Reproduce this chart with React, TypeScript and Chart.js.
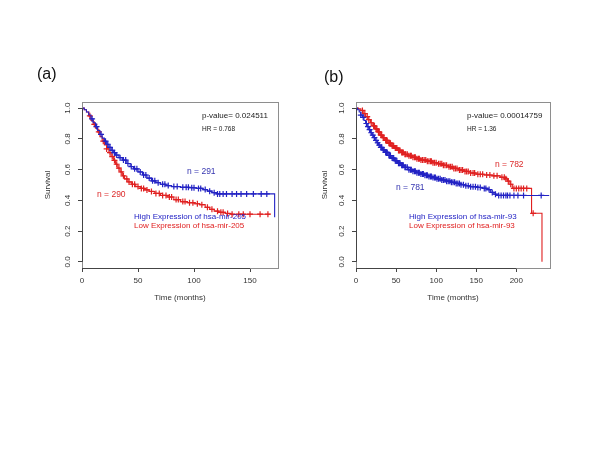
import React, { useEffect, useRef } from 'react';
import { Chart, registerables } from 'chart.js';

Chart.register(...registerables);

// ---------- Panel (a): hsa-mir-205 ----------
const A_HIGH_CURVE: [number, number][] = [
  [0, 1.0], [2, 0.99], [4, 0.975], [6, 0.955], [8, 0.93], [10, 0.905], [12, 0.88], [14, 0.855],
  [16, 0.83], [18, 0.805], [20, 0.785], [22, 0.765], [24, 0.745], [26, 0.725], [28, 0.71], [30, 0.695],
  [33, 0.678], [36, 0.662], [40, 0.64], [43, 0.62], [46, 0.605], [50, 0.585], [54, 0.565], [58, 0.545],
  [62, 0.527], [66, 0.515], [70, 0.505], [75, 0.496], [80, 0.49], [88, 0.485], [96, 0.482], [102, 0.478],
  [108, 0.47], [112, 0.46], [116, 0.45], [120, 0.442], [172, 0.29],
];
const A_HIGH_CENSOR: [number, number][] = [
  [9, 0.93], [13, 0.88], [17, 0.83], [21, 0.785], [23, 0.765], [25, 0.745], [27, 0.725], [29, 0.71],
  [31, 0.695], [34, 0.678], [37, 0.662], [39, 0.662], [41, 0.64], [44, 0.62], [47, 0.605], [49, 0.605],
  [52, 0.585], [55, 0.565], [57, 0.565], [60, 0.545], [63, 0.527], [65, 0.527], [68, 0.515], [72, 0.505],
  [74, 0.505], [77, 0.496], [82, 0.49], [85, 0.49], [90, 0.485], [93, 0.485], [95, 0.485], [98, 0.482],
  [100, 0.482], [104, 0.478], [106, 0.478], [110, 0.47], [114, 0.46], [118, 0.45], [121, 0.442],
  [123, 0.442], [126, 0.442], [129, 0.442], [134, 0.442], [138, 0.442], [142, 0.442], [147, 0.442],
  [153, 0.442], [160, 0.442], [165, 0.442],
];
const A_LOW_CURVE: [number, number][] = [
  [0, 1.0], [2, 0.99], [4, 0.975], [6, 0.95], [8, 0.92], [10, 0.895], [12, 0.87], [14, 0.845],
  [16, 0.815], [18, 0.785], [20, 0.76], [22, 0.735], [24, 0.71], [26, 0.685], [28, 0.66], [30, 0.635],
  [32, 0.61], [34, 0.585], [36, 0.56], [38, 0.54], [41, 0.52], [44, 0.505], [48, 0.49], [52, 0.478],
  [56, 0.468], [60, 0.458], [65, 0.445], [70, 0.432], [76, 0.422], [82, 0.405], [88, 0.392], [94, 0.385],
  [100, 0.378], [105, 0.372], [110, 0.355], [114, 0.342], [118, 0.33], [122, 0.322], [128, 0.315],
  [133, 0.31], [168, 0.31],
];
const A_LOW_CENSOR: [number, number][] = [
  [7, 0.95], [11, 0.895], [15, 0.845], [19, 0.785], [22, 0.735], [25, 0.71], [27, 0.685], [29, 0.66],
  [31, 0.635], [33, 0.61], [35, 0.585], [37, 0.56], [40, 0.54], [42, 0.52], [45, 0.505], [47, 0.505],
  [50, 0.49], [53, 0.478], [55, 0.478], [58, 0.468], [62, 0.458], [66, 0.445], [69, 0.445], [72, 0.432],
  [75, 0.432], [78, 0.422], [80, 0.422], [84, 0.405], [86, 0.405], [90, 0.392], [92, 0.392], [96, 0.385],
  [99, 0.385], [103, 0.378], [107, 0.372], [112, 0.355], [116, 0.342], [121, 0.33], [124, 0.322],
  [126, 0.322], [130, 0.315], [134, 0.31], [140, 0.31], [144, 0.31], [150, 0.31], [159, 0.31], [166, 0.31],
];

// ---------- Panel (b): hsa-mir-93 ----------
const B_HIGH_CURVE: [number, number][] = [
  [0, 1.0], [2, 0.99], [4, 0.975], [6, 0.955], [8, 0.94], [10, 0.92], [12, 0.9], [14, 0.88], [16, 0.86],
  [18, 0.84], [20, 0.825], [22, 0.808], [24, 0.79], [26, 0.775], [28, 0.76], [30, 0.745], [33, 0.728],
  [36, 0.712], [40, 0.692], [44, 0.675], [48, 0.658], [52, 0.642], [56, 0.628], [60, 0.615], [65, 0.6],
  [70, 0.59], [75, 0.58], [80, 0.572], [85, 0.563], [90, 0.555], [95, 0.548], [100, 0.54], [106, 0.532],
  [112, 0.525], [118, 0.518], [124, 0.51], [130, 0.502], [136, 0.495], [142, 0.489], [150, 0.484],
  [158, 0.478], [164, 0.47], [168, 0.452], [172, 0.44], [176, 0.432], [241, 0.432],
];
const B_HIGH_CENSOR: [number, number][] = [
  [6, 0.955], [9, 0.94], [13, 0.9], [15, 0.88], [17, 0.86], [19, 0.84], [21, 0.825], [23, 0.808],
  [25, 0.79], [27, 0.775], [29, 0.76], [31, 0.745], [32, 0.745], [34, 0.728], [35, 0.728], [37, 0.712],
  [38, 0.712], [39, 0.712], [41, 0.692], [42, 0.692], [43, 0.692], [45, 0.675], [46, 0.675], [47, 0.675],
  [49, 0.658], [50, 0.658], [51, 0.658], [53, 0.642], [54, 0.642], [55, 0.642], [57, 0.628], [58, 0.628],
  [59, 0.628], [61, 0.615], [62, 0.615], [64, 0.615], [66, 0.6], [68, 0.6], [69, 0.6], [71, 0.59],
  [73, 0.59], [74, 0.59], [76, 0.58], [78, 0.58], [79, 0.58], [81, 0.572], [83, 0.572], [84, 0.572],
  [86, 0.563], [88, 0.563], [89, 0.563], [91, 0.555], [93, 0.555], [94, 0.555], [96, 0.548], [98, 0.548],
  [99, 0.548], [101, 0.54], [103, 0.54], [105, 0.54], [107, 0.532], [109, 0.532], [111, 0.532],
  [113, 0.525], [115, 0.525], [117, 0.525], [119, 0.518], [121, 0.518], [123, 0.518], [125, 0.51],
  [127, 0.51], [129, 0.51], [131, 0.502], [134, 0.502], [137, 0.495], [140, 0.495], [143, 0.489],
  [146, 0.489], [149, 0.489], [152, 0.484], [155, 0.484], [160, 0.478], [162, 0.478], [166, 0.47],
  [170, 0.452], [174, 0.44], [178, 0.432], [181, 0.432], [184, 0.432], [187, 0.432], [189, 0.432],
  [192, 0.432], [197, 0.432], [202, 0.432], [209, 0.432], [231, 0.432],
];
const B_LOW_CURVE: [number, number][] = [
  [0, 1.0], [3, 0.995], [6, 0.985], [9, 0.965], [12, 0.945], [15, 0.925], [18, 0.905], [21, 0.885],
  [24, 0.865], [27, 0.845], [30, 0.825], [33, 0.808], [36, 0.79], [40, 0.772], [44, 0.755], [48, 0.74],
  [52, 0.725], [56, 0.712], [60, 0.7], [65, 0.69], [70, 0.68], [75, 0.67], [80, 0.662], [88, 0.655],
  [95, 0.645], [102, 0.638], [108, 0.628], [115, 0.618], [121, 0.608], [128, 0.598], [135, 0.588],
  [142, 0.578], [150, 0.57], [160, 0.565], [170, 0.56], [180, 0.55], [186, 0.54], [189, 0.525],
  [192, 0.505], [195, 0.478], [219, 0.316], [232, 0.0],
];
const B_LOW_CENSOR: [number, number][] = [
  [8, 0.985], [11, 0.965], [14, 0.945], [16, 0.925], [19, 0.905], [22, 0.885], [23, 0.885], [25, 0.865],
  [26, 0.865], [28, 0.845], [29, 0.845], [31, 0.825], [32, 0.825], [34, 0.808], [35, 0.808], [37, 0.79],
  [38, 0.79], [39, 0.79], [41, 0.772], [42, 0.772], [43, 0.772], [45, 0.755], [46, 0.755], [47, 0.755],
  [49, 0.74], [50, 0.74], [51, 0.74], [53, 0.725], [54, 0.725], [55, 0.725], [57, 0.712], [58, 0.712],
  [59, 0.712], [61, 0.7], [62, 0.7], [64, 0.7], [66, 0.69], [68, 0.69], [69, 0.69], [71, 0.68], [73, 0.68],
  [74, 0.68], [76, 0.67], [78, 0.67], [79, 0.67], [81, 0.662], [83, 0.662], [85, 0.662], [87, 0.662],
  [89, 0.655], [91, 0.655], [93, 0.655], [94, 0.655], [96, 0.645], [98, 0.645], [100, 0.645],
  [103, 0.638], [105, 0.638], [107, 0.638], [109, 0.628], [111, 0.628], [113, 0.628], [116, 0.618],
  [118, 0.618], [120, 0.618], [122, 0.608], [124, 0.608], [126, 0.608], [129, 0.598], [131, 0.598],
  [133, 0.598], [136, 0.588], [138, 0.588], [140, 0.588], [143, 0.578], [146, 0.578], [148, 0.578],
  [152, 0.57], [155, 0.57], [158, 0.57], [163, 0.565], [167, 0.565], [172, 0.56], [176, 0.56],
  [182, 0.55], [185, 0.55], [187, 0.54], [190, 0.525], [193, 0.505], [197, 0.478], [200, 0.478],
  [203, 0.478], [206, 0.478], [209, 0.478], [213, 0.478], [221, 0.316],
];

// ---------- Axes ----------
const A_X_TICKS = [0, 50, 100, 150];
const B_X_TICKS = [0, 50, 100, 150, 200];
const A_X_MAX = 175;
const B_X_MAX = 242;
const Y_TICKS = [0, 0.2, 0.4, 0.6, 0.8, 1.0];
const Y_TICK_LABELS = ['0.0', '0.2', '0.4', '0.6', '0.8', '1.0'];
const X_TITLE = 'Time (months)';
const Y_TITLE = 'Survival';

// ---------- Texts ----------
const A_TEXTS = {
  tag: '(a)', pval: 'p-value= 0.024511', hr: 'HR = 0.768',
  nHigh: 'n = 291', nLow: 'n = 290',
  legHigh: 'High Expression of hsa-mir-205', legLow: 'Low Expression of hsa-mir-205',
};
const B_TEXTS = {
  tag: '(b)', pval: 'p-value= 0.00014759', hr: 'HR = 1.36',
  nHigh: 'n = 781', nLow: 'n = 782',
  legHigh: 'High Expression of hsa-mir-93', legLow: 'Low Expression of hsa-mir-93',
};

const BLUE = '#2222c4';
const RED = '#e02020';
const BLUE_TXT = '#3535b0';
const RED_TXT = '#dc2a2a';
const FONT = '"Liberation Sans", Arial, sans-serif';

type Pos = { x: number; y: number };
type PanelCfg = {
  offsetX: number;
  high: [number, number][];
  highCensor: [number, number][];
  low: [number, number][];
  lowCensor: [number, number][];
  xTicks: number[];
  xMax: number;
  texts: typeof A_TEXTS;
  pos: {
    tag: Pos; pval: Pos; hr: Pos; nHigh: Pos; nLow: Pos; legHigh: Pos; legLow: Pos; yTitle: Pos; xTitle: Pos;
  };
  padLeft: number;
  padRight: number;
};

const PANELS: PanelCfg[] = [
  {
    offsetX: 0, high: A_HIGH_CURVE, highCensor: A_HIGH_CENSOR, low: A_LOW_CURVE, lowCensor: A_LOW_CENSOR,
    xTicks: A_X_TICKS, xMax: A_X_MAX, texts: A_TEXTS,
    pos: {
      tag: { x: 37, y: 75 }, pval: { x: 202, y: 116 }, hr: { x: 202, y: 129 },
      nHigh: { x: 187, y: 172 }, nLow: { x: 97, y: 195 },
      legHigh: { x: 134, y: 217 }, legLow: { x: 134, y: 226 },
      yTitle: { x: 48, y: 185 }, xTitle: { x: 180, y: 298 },
    },
    padLeft: 52, padRight: 22,
  },
  {
    offsetX: 300, high: B_HIGH_CURVE, highCensor: B_HIGH_CENSOR, low: B_LOW_CURVE, lowCensor: B_LOW_CENSOR,
    xTicks: B_X_TICKS, xMax: B_X_MAX, texts: B_TEXTS,
    pos: {
      tag: { x: 324, y: 78 }, pval: { x: 467, y: 116 }, hr: { x: 467, y: 129 },
      nHigh: { x: 396, y: 188 }, nLow: { x: 495, y: 165 },
      legHigh: { x: 409, y: 217 }, legLow: { x: 409, y: 226 },
      yTitle: { x: 325, y: 185 }, xTitle: { x: 453, y: 298 },
    },
    padLeft: 26, padRight: 50,
  },
];

function makeOverlay(cfg: PanelCfg) {
  return {
    id: 'kmOverlay',
    afterDraw(chart: any) {
      const { ctx, chartArea: ca, scales } = chart;
      const xs = scales.x;
      const ys = scales.y;
      const ox = cfg.offsetX;
      ctx.save();
      // box
      ctx.strokeStyle = '#8e8e8e';
      ctx.lineWidth = 1;
      ctx.strokeRect(Math.round(ca.left) + 0.5, Math.round(ca.top) + 0.5,
        Math.round(ca.right - ca.left), Math.round(ca.bottom - ca.top));
      // axis lines spanning ticks
      ctx.strokeStyle = '#444';
      ctx.beginPath();
      const bx = Math.round(ca.bottom) + 0.5;
      ctx.moveTo(xs.getPixelForValue(cfg.xTicks[0]), bx);
      ctx.lineTo(xs.getPixelForValue(cfg.xTicks[cfg.xTicks.length - 1]), bx);
      const lx = Math.round(ca.left) + 0.5;
      ctx.moveTo(lx, ys.getPixelForValue(Y_TICKS[0]));
      ctx.lineTo(lx, ys.getPixelForValue(Y_TICKS[Y_TICKS.length - 1]));
      ctx.stroke();

      // y tick labels (rotated)
      ctx.fillStyle = '#333';
      ctx.font = `8px ${FONT}`;
      ctx.textAlign = 'center';
      ctx.textBaseline = 'middle';
      Y_TICKS.forEach((v, i) => {
        ctx.save();
        ctx.translate(ca.left - 14, ys.getPixelForValue(v));
        ctx.rotate(-Math.PI / 2);
        ctx.fillText(Y_TICK_LABELS[i], 0, 0);
        ctx.restore();
      });
      // axis titles
      ctx.save();
      ctx.translate(cfg.pos.yTitle.x - ox, cfg.pos.yTitle.y);
      ctx.rotate(-Math.PI / 2);
      ctx.fillText(Y_TITLE, 0, 0);
      ctx.restore();
      ctx.fillText(X_TITLE, cfg.pos.xTitle.x - ox, cfg.pos.xTitle.y);

      // panel tag
      ctx.textAlign = 'left';
      ctx.fillStyle = '#111';
      ctx.font = `16px ${FONT}`;
      ctx.fillText(cfg.texts.tag, cfg.pos.tag.x - ox, cfg.pos.tag.y);

      // p-value & HR
      ctx.fillStyle = '#1a1a1a';
      ctx.font = `8px ${FONT}`;
      ctx.fillText(cfg.texts.pval, cfg.pos.pval.x - ox, cfg.pos.pval.y);
      ctx.font = `6.5px ${FONT}`;
      ctx.fillText(cfg.texts.hr, cfg.pos.hr.x - ox, cfg.pos.hr.y);

      // n labels
      ctx.font = `8.5px ${FONT}`;
      ctx.fillStyle = BLUE_TXT;
      ctx.fillText(cfg.texts.nHigh, cfg.pos.nHigh.x - ox, cfg.pos.nHigh.y);
      ctx.fillStyle = RED_TXT;
      ctx.fillText(cfg.texts.nLow, cfg.pos.nLow.x - ox, cfg.pos.nLow.y);

      // legend
      ctx.font = `8px ${FONT}`;
      ctx.fillStyle = BLUE;
      ctx.fillText(cfg.texts.legHigh, cfg.pos.legHigh.x - ox, cfg.pos.legHigh.y);
      ctx.fillStyle = RED;
      ctx.fillText(cfg.texts.legLow, cfg.pos.legLow.x - ox, cfg.pos.legLow.y);
      ctx.restore();
    },
  };
}

function KMPanel({ cfg }: { cfg: PanelCfg }) {
  const ref = useRef<HTMLCanvasElement | null>(null);
  useEffect(() => {
    if (!ref.current) return;
    const toXY = (arr: [number, number][]) => arr.map(([x, y]) => ({ x, y }));
    const chart = new Chart(ref.current, {
      type: 'line',
      data: {
        datasets: [
          {
            data: toXY(cfg.low), borderColor: RED, borderWidth: 1.1, stepped: true,
            pointRadius: 0, fill: false, order: 4,
          } as any,
          {
            data: toXY(cfg.lowCensor), borderColor: RED, borderWidth: 1.2, showLine: false,
            pointStyle: 'cross', pointRadius: 3, order: 3,
          } as any,
          {
            data: toXY(cfg.high), borderColor: BLUE, borderWidth: 1.1, stepped: true,
            pointRadius: 0, fill: false, order: 2,
          } as any,
          {
            data: toXY(cfg.highCensor), borderColor: BLUE, borderWidth: 1.2, showLine: false,
            pointStyle: 'cross', pointRadius: 3, order: 1,
          } as any,
        ],
      },
      options: {
        responsive: false,
        animation: false,
        events: [],
        layout: { padding: { left: cfg.padLeft, right: cfg.padRight, top: 102, bottom: 142 } },
        plugins: { legend: { display: false }, tooltip: { enabled: false }, title: { display: false } },
        scales: {
          x: {
            type: 'linear', min: 0, max: cfg.xMax,
            afterBuildTicks: (s: any) => { s.ticks = cfg.xTicks.map((v) => ({ value: v })); },
            afterFit: (s: any) => { s.height = 40; },
            ticks: {
              autoSkip: false, maxRotation: 0, minRotation: 0, padding: 4, color: '#333',
              font: { size: 8, family: FONT }, callback: (v: any) => String(v),
            },
            grid: { drawOnChartArea: false, drawTicks: true, tickLength: 4, color: '#444', tickColor: '#444' },
            border: { display: false },
          },
          y: {
            type: 'linear', min: -0.04, max: 1.04,
            afterBuildTicks: (s: any) => { s.ticks = Y_TICKS.map((v) => ({ value: v })); },
            afterFit: (s: any) => { s.width = 30; },
            ticks: { display: false },
            grid: { drawOnChartArea: false, drawTicks: true, tickLength: 4, color: '#444', tickColor: '#444' },
            border: { display: false },
          },
        },
      } as any,
      plugins: [makeOverlay(cfg)],
    });
    return () => chart.destroy();
  }, [cfg]);
  return (
    <canvas
      ref={ref}
      width={300}
      height={450}
      style={{ position: 'absolute', left: cfg.offsetX, top: 0, width: 300, height: 450 }}
    />
  );
}

export default function App() {
  return (
    <div style={{ position: 'absolute', left: 0, top: 0, width: 600, height: 450, background: '#ffffff', overflow: 'hidden' }}>
      {PANELS.map((p, i) => (
        <KMPanel key={i} cfg={p} />
      ))}
    </div>
  );
}
